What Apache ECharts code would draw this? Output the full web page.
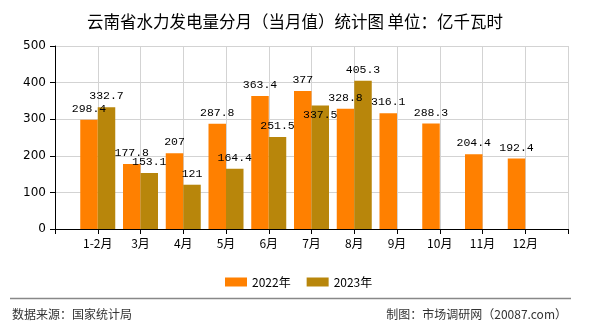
<!DOCTYPE html>
<html>
<head>
<meta charset="utf-8">
<script src="https://cdn.jsdelivr.net/npm/echarts@6/dist/echarts.min.js"></script>
<style>html,body{margin:0;padding:0;background:#fff;}#c{width:590px;height:330px;}</style>
</head>
<body>
<div id="c"></div>
<script>
var titleText = '云南省水力发电量分月（当月值）统计图 单位：亿千瓦时';
var months = ['1-2月','3月','4月','5月','6月','7月','8月','9月','10月','11月','12月'];
var seriesNames = ['2022年','2023年'];
var values2022 = [298.4, 177.8, 207, 287.8, 363.4, 377, 328.8, 316.1, 288.3, 204.4, 192.4];
var values2023 = [332.7, 153.1, 121, 164.4, 251.5, 337.5, 405.3, null, null, null, null];
var yTicks = [0, 100, 200, 300, 400, 500];
var sourceText = '数据来源：国家统计局';
var makerText = '制图：市场调研网（20087.com）';

var cjk = '"Noto Sans CJK SC", "DejaVu Sans", sans-serif';
var categories = [''].concat(months).concat(['']);
function pad(arr) {
  return [null].concat(arr).concat([null]);
}
function toData(arr, shiftIdx) {
  return pad(arr).map(function (v, i) {
    if (v === null) return null;
    if (i === shiftIdx) return { value: v, label: { offset: [0, 20] } };
    return v;
  });
}
var labelStyle = {
  show: true, position: 'top', distance: 5, color: '#000',
  fontFamily: '"Liberation Mono", "DejaVu Sans Mono", monospace', fontSize: 11.5
};
var chart = echarts.init(document.getElementById('c'), null, { renderer: 'canvas' });
chart.setOption({
  animation: false,
  backgroundColor: '#fff',
  title: {
    text: titleText, left: 'center', top: 8,
    textStyle: { fontFamily: cjk, fontSize: 16.5, fontWeight: 'normal', color: '#000' }
  },
  legend: {
    data: seriesNames, left: 220, top: 271, itemWidth: 22, itemHeight: 9, itemGap: 16,
    icon: 'rect',
    textStyle: { fontFamily: cjk, fontSize: 12, color: '#000', padding: [0, 0, 0, 0] }
  },
  grid: { left: 55, right: 22, top: 46, bottom: 101, containLabel: false },
  xAxis: {
    type: 'category', data: categories, boundaryGap: false,
    axisLine: { lineStyle: { color: '#000', width: 1 } },
    axisTick: { show: true, interval: 0, length: 5, lineStyle: { color: '#000' } },
    axisLabel: { interval: 0, color: '#000', fontFamily: cjk, fontSize: 12, margin: 8 },
    splitLine: { show: true, interval: 0, lineStyle: { color: '#d3d3d3' } }
  },
  yAxis: {
    type: 'value', min: yTicks[0], max: yTicks[yTicks.length - 1], interval: 100,
    axisLine: { show: true, lineStyle: { color: '#000' } },
    axisTick: { show: true, length: 5, lineStyle: { color: '#000' } },
    axisLabel: { color: '#000', fontFamily: '"DejaVu Sans", sans-serif', fontSize: 12, margin: 9 },
    splitLine: { show: true, lineStyle: { color: '#d3d3d3' } }
  },
  series: [
    {
      name: seriesNames[0], type: 'bar', data: toData(values2022, -1),
      barWidth: 17.5, barGap: '0%', itemStyle: { color: '#FF8000' }, label: labelStyle
    },
    {
      name: seriesNames[1], type: 'bar', data: toData(values2023, 6),
      barWidth: 17.5, barGap: '0%', itemStyle: { color: '#B8860B' }, label: labelStyle
    }
  ],
  graphic: [
    { type: 'line', shape: { x1: 10, y1: 298.5, x2: 571, y2: 298.5 }, style: { stroke: '#888', lineWidth: 1.5 } },
    { type: 'text', left: 12, top: 308, style: { text: sourceText, fontFamily: cjk, fontSize: 12, fill: '#333' } },
    { type: 'text', right: 23, top: 308, style: { text: makerText, fontFamily: cjk, fontSize: 12, fill: '#333' } }
  ]
});
</script>
</body>
</html>
